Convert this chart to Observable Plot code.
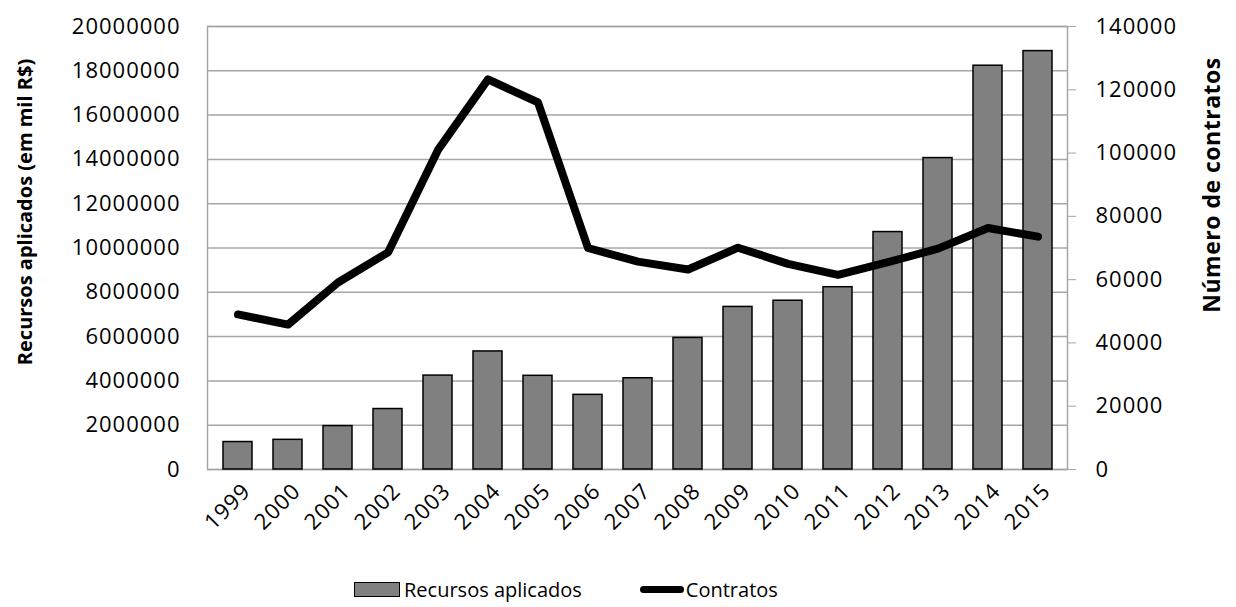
<!DOCTYPE html>
<html>
<head>
<meta charset="utf-8">
<script src="https://cdn.jsdelivr.net/npm/d3@7"></script>
<script src="https://cdn.jsdelivr.net/npm/@observablehq/plot@0.6"></script>
<style>
  body { margin: 0; background: white; font-family: "Open Sans", sans-serif; }
  #wrap { position: relative; width: 1236px; height: 607px; }
  #legend { position: absolute; left: 354px; top: 576px; display: flex; align-items: center; font-size: 20px; color: black; }
  .sw-bar { width: 44px; height: 13px; background: #808080; border: 1.5px solid black; margin-right: 4px; }
  .sw-line { width: 44px; height: 7px; background: black; border-radius: 4px; margin-left: 58px; margin-right: 2px; }
  .tk text { letter-spacing: 1px; }
  .rt text { letter-spacing: 0.5px; }
</style>
</head>
<body>
<div id="wrap">
  <div id="chart"></div>
  <div id="legend">
    <div class="sw-bar"></div><span>Recursos aplicados</span>
    <div class="sw-line"></div><span>Contratos</span>
  </div>
</div>
<script>
const years = ["1999","2000","2001","2002","2003","2004","2005","2006","2007","2008","2009","2010","2011","2012","2013","2014","2015"];
const recursos = [1240000, 1340000, 1960000, 2730000, 4240000, 5330000, 4230000, 3370000, 4120000, 5940000, 7340000, 7620000, 8230000, 10720000, 14060000, 18230000, 18890000];
const contratos = [49000, 45800, 59100, 68600, 101000, 123300, 116000, 70000, 65700, 63200, 70100, 65000, 61500, 65500, 69800, 76300, 73600];
const leftTicks = [0, 2000000, 4000000, 6000000, 8000000, 10000000, 12000000, 14000000, 16000000, 18000000, 20000000];
const rightTicks = [0, 20000, 40000, 60000, 80000, 100000, 120000, 140000];
const leftTitle = "Recursos aplicados (em mil R$)";
const rightTitle = "Número de contratos";

const k = 20000000 / 140000;
const data = years.map((y, i) => ({year: y, recursos: recursos[i], contratos: contratos[i]}));
const fmt = d3.format("d");

const chart = Plot.plot({
  width: 1236,
  height: 560,
  marginLeft: 207,
  marginRight: 169,
  marginTop: 26,
  marginBottom: 91,
  style: {fontFamily: "'Open Sans', sans-serif", fontSize: "22px", color: "black", background: "white"},
  x: {domain: years, paddingInner: 0.42, paddingOuter: 0.21, label: null},
  y: {domain: [0, 20000000], label: null},
  marks: [
    Plot.gridY(leftTicks, {stroke: "#a6a6a6", strokeOpacity: 1, strokeWidth: 1.5}),
    Plot.frame({stroke: "#a6a6a6", strokeWidth: 1.5}),
    Plot.barY(data, {x: "year", y: "recursos", fill: "#808080", stroke: "black", strokeWidth: 1.5}),
    Plot.line(data, {x: "year", y: d => d.contratos * k, stroke: "black", strokeWidth: 8, strokeLinecap: "round", strokeLinejoin: "round"}),
    Plot.axisY(leftTicks, {anchor: "left", tickSize: 0, tickPadding: 27, tickFormat: fmt, label: null, className: "tk"}),
    Plot.axisY(rightTicks.map(v => v * k), {anchor: "right", tickSize: 8, tickPadding: 20, stroke: "#a6a6a6", tickFormat: d => fmt(Math.round(d / k)), label: null, className: "tk"}),
    Plot.axisX({tickRotate: -45, tickSize: 0, tickPadding: 18, dx: 9, label: null, className: "tk"}),
    Plot.text([leftTitle], {frameAnchor: "left", textAnchor: "middle", rotate: -90, dx: -182, dy: -36, fontWeight: "bold", fontSize: 20}),
    Plot.text([rightTitle], {frameAnchor: "right", textAnchor: "middle", rotate: -90, dx: 145, dy: -63, fontWeight: "bold", fontSize: 23, className: "rt"})
  ]
});
document.getElementById("chart").appendChild(chart);
</script>
</body>
</html>
